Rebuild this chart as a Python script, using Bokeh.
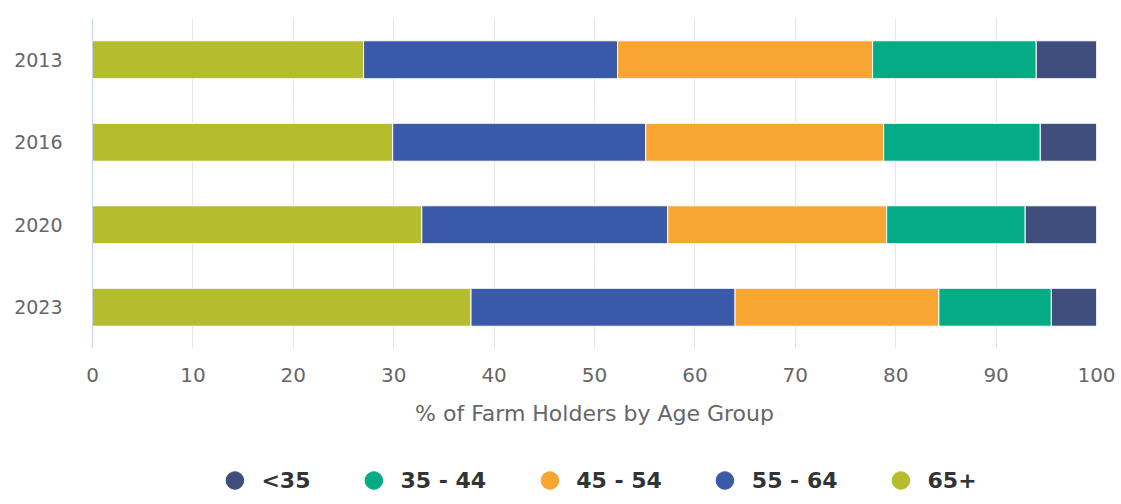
import numpy as np
from bokeh.plotting import figure
from bokeh.layouts import column
from bokeh.models import FactorRange, Range1d, Legend, LegendItem, FixedTicker, ColumnDataSource
from bokeh.embed import file_html
from bokeh.resources import INLINE

years = ["2013", "2016", "2020", "2023"]
stack_keys = ["65+", "55 - 64", "45 - 54", "35 - 44", "<35"]
v_65p = [27.0, 29.9, 32.8, 37.7]
v_55_64 = [25.3, 25.2, 24.5, 26.3]
v_45_54 = [25.4, 23.7, 21.8, 20.3]
v_35_44 = [16.3, 15.6, 13.8, 11.2]
v_lt35 = [6.0, 5.6, 7.1, 4.5]
colors = ["#b5bd2e", "#3b59a9", "#f8a532", "#05ab84", "#3f4e7c"]
x_ticks = [0, 10, 20, 30, 40, 50, 60, 70, 80, 90, 100]

source = ColumnDataSource(data={
    "year": years,
    "65+": v_65p,
    "55 - 64": v_55_64,
    "45 - 54": v_45_54,
    "35 - 44": v_35_44,
    "<35": v_lt35,
})

FONT = "DejaVu Sans"

p = figure(
    y_range=FactorRange(factors=list(reversed(years))),
    x_range=Range1d(0, 100),
    frame_width=1004, frame_height=330,
    min_border_left=92, min_border_right=20, min_border_top=18, min_border_bottom=0,
    output_backend="svg", toolbar_location=None,
)
p.outline_line_color = None
p.background_fill_color = "white"
p.border_fill_color = "white"

p.hbar_stack(stack_keys, y="year", height=0.46, color=colors,
             source=source, line_color="white", line_width=1)

# axes
p.xaxis.ticker = FixedTicker(ticks=x_ticks)
p.xaxis.axis_line_color = None
p.xaxis.major_tick_line_color = None
p.xaxis.minor_tick_line_color = None
p.xaxis.major_tick_out = 0
p.xaxis.major_label_text_font = FONT
p.xaxis.major_label_text_font_size = "20px"
p.xaxis.major_label_text_color = "#666666"
p.xaxis.major_label_standoff = 19
p.xaxis.axis_label = "% of Farm Holders by Age Group"
p.xaxis.axis_label_text_font = FONT
p.xaxis.axis_label_text_font_size = "22px"
p.xaxis.axis_label_text_font_style = "normal"
p.xaxis.axis_label_text_color = "#666666"
p.xaxis.axis_label_standoff = 16

p.yaxis.axis_line_color = "#ccd6eb"
p.yaxis.major_tick_line_color = None
p.yaxis.minor_tick_line_color = None
p.yaxis.major_tick_out = 0
p.yaxis.major_label_text_font = FONT
p.yaxis.major_label_text_font_size = "19px"
p.yaxis.major_label_text_color = "#666666"
p.yaxis.major_label_standoff = 30

p.xgrid.ticker = FixedTicker(ticks=x_ticks)
p.xgrid.grid_line_color = "#e6e6e6"
p.ygrid.grid_line_color = None

# legend in its own strip below the chart
lg = figure(
    x_range=Range1d(0, 1), y_range=Range1d(0, 1),
    frame_width=1004, frame_height=30,
    min_border_left=92, min_border_right=20, min_border_top=37, min_border_bottom=0,
    x_axis_location=None, y_axis_location=None,
    output_backend="svg", toolbar_location=None,
)
lg.outline_line_color = None
lg.grid.visible = False
lg.background_fill_color = "white"
lg.border_fill_color = "white"

marker_items = []
for k, c in zip(stack_keys, colors):
    # legend-only renderer: a single NaN point is never drawn in the plot
    m = lg.scatter(x=np.array([np.nan]), y=np.array([np.nan]), marker="circle",
                   size=17, fill_color=c, line_color=c)
    marker_items.append(LegendItem(label=k, renderers=[m]))
marker_items = list(reversed(marker_items))

legend = Legend(items=marker_items, orientation="horizontal", location="center")
legend.label_text_font = FONT
legend.label_text_font_size = "22px"
legend.label_text_font_style = "bold"
legend.label_text_color = "#333333"
legend.glyph_width = 46
legend.glyph_height = 44
legend.label_standoff = 4
legend.spacing = 40
legend.padding = 0
legend.margin = 0
legend.border_line_color = None
legend.background_fill_alpha = 0
legend.click_policy = "none"
lg.add_layout(legend, "center")

layout = column(p, lg, spacing=0)
open("out.html", "w").write(file_html(layout, INLINE))
